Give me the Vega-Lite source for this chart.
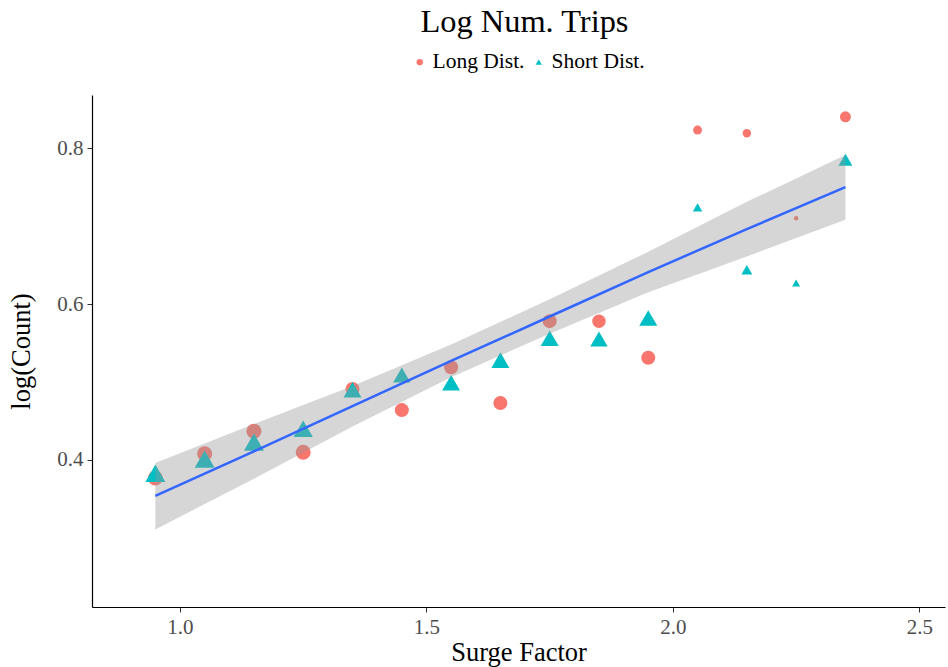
{
  "$schema": "https://vega.github.io/schema/vega-lite/v6.json",
  "width": 853,
  "height": 512,
  "autosize": {"type": "none"},
  "padding": {"left": 92, "top": 95, "right": 3, "bottom": 60},
  "background": "white",
  "title": {"text": "Log Num. Trips", "font": "Liberation Serif", "fontSize": 32.4, "fontWeight": "normal", "color": "black", "anchor": "middle", "offset": 13, "dx": 6},
  "datasets": {
    "pts": [
      {"sf": 0.95, "val": 0.377, "type": "Long Dist.", "n": 112},
      {"sf": 1.05, "val": 0.408, "type": "Long Dist.", "n": 112},
      {"sf": 1.15, "val": 0.437, "type": "Long Dist.", "n": 112},
      {"sf": 1.25, "val": 0.410, "type": "Long Dist.", "n": 112},
      {"sf": 1.35, "val": 0.491, "type": "Long Dist.", "n": 98},
      {"sf": 1.45, "val": 0.464, "type": "Long Dist.", "n": 98},
      {"sf": 1.55, "val": 0.519, "type": "Long Dist.", "n": 98},
      {"sf": 1.65, "val": 0.473, "type": "Long Dist.", "n": 98},
      {"sf": 1.75, "val": 0.578, "type": "Long Dist.", "n": 98},
      {"sf": 1.85, "val": 0.578, "type": "Long Dist.", "n": 90},
      {"sf": 1.95, "val": 0.531, "type": "Long Dist.", "n": 98},
      {"sf": 2.05, "val": 0.823, "type": "Long Dist.", "n": 40},
      {"sf": 2.15, "val": 0.819, "type": "Long Dist.", "n": 35},
      {"sf": 2.25, "val": 0.710, "type": "Long Dist.", "n": 10},
      {"sf": 2.35, "val": 0.840, "type": "Long Dist.", "n": 60},
      {"sf": 0.95, "val": 0.383, "type": "Short Dist.", "n": 200},
      {"sf": 1.05, "val": 0.401, "type": "Short Dist.", "n": 200},
      {"sf": 1.15, "val": 0.423, "type": "Short Dist.", "n": 200},
      {"sf": 1.25, "val": 0.440, "type": "Short Dist.", "n": 185},
      {"sf": 1.35, "val": 0.490, "type": "Short Dist.", "n": 162},
      {"sf": 1.45, "val": 0.509, "type": "Short Dist.", "n": 150},
      {"sf": 1.55, "val": 0.499, "type": "Short Dist.", "n": 162},
      {"sf": 1.65, "val": 0.528, "type": "Short Dist.", "n": 162},
      {"sf": 1.75, "val": 0.556, "type": "Short Dist.", "n": 162},
      {"sf": 1.85, "val": 0.555, "type": "Short Dist.", "n": 150},
      {"sf": 1.95, "val": 0.582, "type": "Short Dist.", "n": 162},
      {"sf": 2.05, "val": 0.724, "type": "Short Dist.", "n": 45},
      {"sf": 2.15, "val": 0.644, "type": "Short Dist.", "n": 60},
      {"sf": 2.25, "val": 0.627, "type": "Short Dist.", "n": 32},
      {"sf": 2.35, "val": 0.785, "type": "Short Dist.", "n": 98}
    ],
    "fit": [
      {"sf": 0.95, "fit": 0.354, "lo": 0.311, "hi": 0.396},
      {"sf": 1.15, "fit": 0.411, "lo": 0.376, "hi": 0.446},
      {"sf": 1.35, "fit": 0.469, "lo": 0.443, "hi": 0.495},
      {"sf": 1.55, "fit": 0.527, "lo": 0.506, "hi": 0.548},
      {"sf": 1.75, "fit": 0.584, "lo": 0.562, "hi": 0.606},
      {"sf": 1.95, "fit": 0.641, "lo": 0.615, "hi": 0.667},
      {"sf": 2.15, "fit": 0.696, "lo": 0.661, "hi": 0.731},
      {"sf": 2.35, "fit": 0.750, "lo": 0.708, "hi": 0.791}
    ]
  },
  "layer": [
    {
      "data": {"name": "pts"},
      "mark": {"type": "point", "filled": true, "opacity": 1, "strokeWidth": 0},
      "encoding": {
        "x": {"field": "sf", "type": "quantitative", "scale": {"domain": [0.8215, 2.552], "nice": false, "zero": false},
          "axis": {"values": [1, 1.5, 2, 2.5], "format": ".1f", "title": "Surge Factor"}},
        "y": {"field": "val", "type": "quantitative", "scale": {"domain": [0.2115, 0.868], "nice": false, "zero": false},
          "axis": {"values": [0.4, 0.6, 0.8], "format": ".1f", "title": "log(Count)"}},
        "color": {"field": "type", "type": "nominal", "scale": {"domain": ["Long Dist.", "Short Dist."], "range": ["#F8766D", "#00BFC4"]},
          "legend": {"title": null, "orient": "none", "direction": "horizontal", "legendX": 317, "legendY": -44}},
        "shape": {"field": "type", "type": "nominal", "scale": {"domain": ["Long Dist.", "Short Dist."], "range": ["circle", "triangle-up"]},
          "legend": {"title": null, "orient": "none", "direction": "horizontal", "legendX": 317, "legendY": -44}},
        "size": {"field": "n", "type": "quantitative", "scale": {"domain": [0, 200], "range": [0, 400]}, "legend": null},
        "order": {"field": "type", "type": "nominal"}
      }
    },
    {
      "data": {"name": "fit"},
      "mark": {"type": "area", "color": "#999999", "opacity": 0.4},
      "encoding": {
        "x": {"field": "sf", "type": "quantitative"},
        "y": {"field": "lo", "type": "quantitative"},
        "y2": {"field": "hi"}
      }
    },
    {
      "data": {"name": "fit"},
      "mark": {"type": "line", "color": "#3366FF", "strokeWidth": 2.5},
      "encoding": {
        "x": {"field": "sf", "type": "quantitative"},
        "y": {"field": "fit", "type": "quantitative"}
      }
    }
  ],
  "config": {
    "view": {"stroke": null},
    "axis": {
      "grid": false,
      "domainColor": "black",
      "domainWidth": 1.2,
      "tickColor": "#333333",
      "tickSize": 5,
      "labelFont": "Liberation Serif",
      "labelFontSize": 21,
      "labelColor": "#4d4d4d",
      "labelPadding": 4,
      "titleFont": "Liberation Serif",
      "titleFontSize": 26.5,
      "titleFontWeight": "normal",
      "titleColor": "black"
    },
    "axisX": {"titlePadding": 2, "labelFlush": false},
    "axisY": {"titlePadding": 21},
    "legend": {
      "labelFont": "Liberation Serif",
      "labelFontSize": 21.5,
      "labelColor": "black",
      "symbolSize": 40,
      "labelOffset": 2,
      "columnPadding": 3,
      "symbolStrokeWidth": 0
    }
  }
}
